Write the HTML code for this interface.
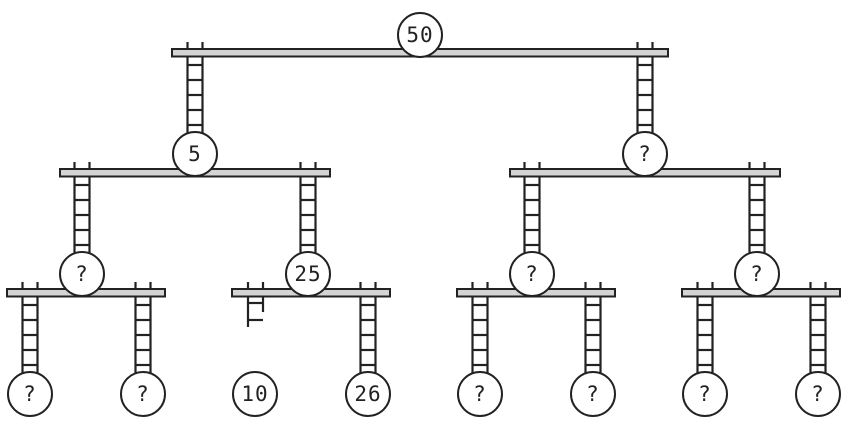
<!DOCTYPE html>
<html><head><meta charset="utf-8"><style>
html,body{margin:0;padding:0;background:#fff;width:848px;height:427px;overflow:hidden}
text{font-family:"DejaVu Sans Mono","Liberation Mono",monospace;font-size:21px;fill:#222;text-anchor:middle;dominant-baseline:central;letter-spacing:1px}
</style></head><body>
<svg id="s" width="848" height="427" viewBox="0 0 848 427" xmlns="http://www.w3.org/2000/svg">
<g id="lad" stroke="#222" stroke-width="2.2" fill="none"></g>
<g stroke="#222" stroke-width="2" fill="#d4d4d4">
<rect x="172" y="49" width="496" height="7.5"/>
<rect x="60" y="169" width="270" height="7.5"/>
<rect x="510" y="169" width="270" height="7.5"/>
<rect x="7" y="289" width="158" height="7.5"/>
<rect x="232" y="289" width="158" height="7.5"/>
<rect x="457" y="289" width="158" height="7.5"/>
<rect x="682" y="289" width="158" height="7.5"/>
</g>
<g stroke="#222" stroke-width="2" fill="#fff">
<circle cx="420" cy="35" r="22"/>
<circle cx="195" cy="154" r="22"/><circle cx="645" cy="154" r="22"/>
<circle cx="82" cy="274" r="22"/><circle cx="308" cy="274" r="22"/><circle cx="532" cy="274" r="22"/><circle cx="757" cy="274" r="22"/>
<circle cx="30" cy="394" r="22"/><circle cx="143" cy="394" r="22"/><circle cx="255" cy="394" r="22"/><circle cx="368" cy="394" r="22"/>
<circle cx="480" cy="394" r="22"/><circle cx="593" cy="394" r="22"/><circle cx="705" cy="394" r="22"/><circle cx="818" cy="394" r="22"/>
</g>
<text x="420" y="35">50</text>
<text x="195" y="154">5</text><text x="645" y="154">?</text>
<text x="82" y="274">?</text><text x="308" y="274">25</text><text x="532" y="274">?</text><text x="757" y="274">?</text>
<text x="30" y="394">?</text><text x="143" y="394">?</text><text x="255" y="394">10</text><text x="368" y="394">26</text>
<text x="480" y="394">?</text><text x="593" y="394">?</text><text x="705" y="394">?</text><text x="818" y="394">?</text>
</svg>
<script>
var g=document.getElementById('lad'),h='';
function L(cx,y1,y2,r0){var a=cx-7.5,b=cx+7.5;h+='<line x1="'+a+'" y1="'+y1+'" x2="'+a+'" y2="'+y2+'"/><line x1="'+b+'" y1="'+y1+'" x2="'+b+'" y2="'+y2+'"/>';for(var y=r0;y<y2-3;y+=15)h+='<line x1="'+a+'" y1="'+y+'" x2="'+b+'" y2="'+y+'"/>';}
L(195,42,134,65);L(645,42,134,65);
[82,308,532,757].forEach(function(c){L(c,162,254,185)});
[30,143,368,480,593,705,818].forEach(function(c){L(c,282,374,305)});
h+='<line x1="248" y1="282" x2="248" y2="327"/><line x1="263" y1="282" x2="263" y2="312"/><line x1="248" y1="303" x2="263" y2="303"/><line x1="248" y1="320" x2="263" y2="320"/>';
g.innerHTML=h;
</script>
</body></html>
